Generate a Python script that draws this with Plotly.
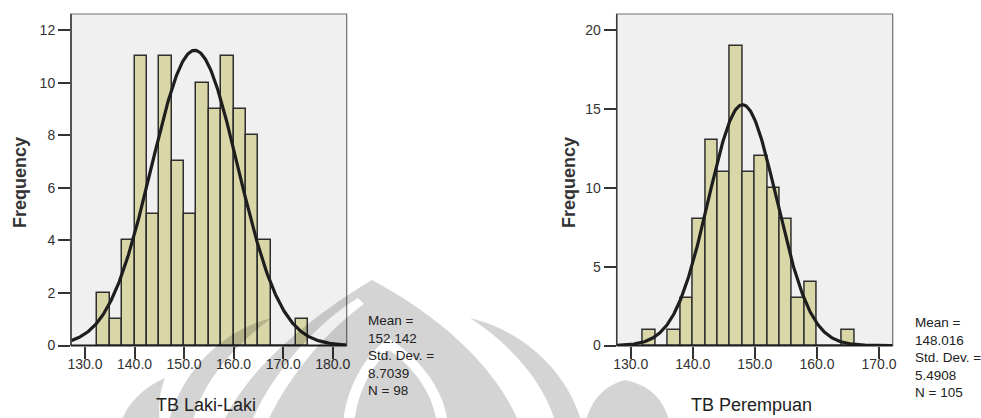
import numpy as np
import plotly.graph_objects as go

# ---------------- data ----------------
male_title = "TB Laki-Laki"
male_bin_start = 132.5
male_bin_width = 2.5
male_counts = [2, 1, 4, 11, 5, 11, 7, 5, 10, 9, 11, 9, 8, 4, 0, 0, 1]
male_mean = 152.142
male_sd = 8.7039
male_n = 98
male_ticks = [130.0, 140.0, 150.0, 160.0, 170.0, 180.0]
male_yticks = [0, 2, 4, 6, 8, 10, 12]

female_title = "TB Perempuan"
female_bin_start = 132.0
female_bin_width = 2.0
female_counts = [1, 0, 1, 3, 8, 13, 11, 19, 11, 12, 10, 8, 3, 4, 0, 0, 1]
female_mean = 148.016
female_sd = 5.4908
female_n = 105
female_ticks = [130.0, 140.0, 150.0, 160.0, 170.0]
female_yticks = [0, 5, 10, 15, 20]

# ---------------- styling ----------------
W, H = 981, 418
FONT = "Liberation Sans, Arial, sans-serif"
BAR_FILL = "#d9d6a8"
BAR_LINE = "#2e2e2e"
BG = "#f0f0f0"


def px_x(x):
    return x / W


def px_y(y):
    return 1 - y / H


fig = go.Figure()


def add_panel(idx, start, width, counts, mean, sd, n, xr):
    xa = "x" if idx == 1 else "x2"
    ya = "y" if idx == 1 else "y2"
    centers = [start + width * (i + 0.5) for i in range(len(counts))]
    fig.add_trace(go.Bar(
        x=centers, y=counts, width=width, xaxis=xa, yaxis=ya,
        marker=dict(color=BAR_FILL, line=dict(color=BAR_LINE, width=1.5)),
        showlegend=False, hoverinfo="x+y"))
    xs = np.linspace(xr[0], xr[1], 400)
    ys = n * width / (sd * np.sqrt(2 * np.pi)) * np.exp(-0.5 * ((xs - mean) / sd) ** 2)
    fig.add_trace(go.Scatter(
        x=xs, y=ys, mode="lines", xaxis=xa, yaxis=ya,
        line=dict(color="#1e1e1e", width=3.2), showlegend=False, hoverinfo="skip"))


x1_range = [127.17, 182.83]
x2_range = [127.74, 172.2]
add_panel(1, male_bin_start, male_bin_width, male_counts, male_mean, male_sd, male_n, x1_range)
add_panel(2, female_bin_start, female_bin_width, female_counts, female_mean, female_sd, female_n, x2_range)

ydom = [px_y(345.5), px_y(14)]
axis_common = dict(showgrid=False, zeroline=False, ticks="outside", ticklen=12,
                   tickwidth=1.5, tickcolor="#333333",
                   tickfont=dict(family=FONT, size=14, color="#333333"),
                   showline=False, fixedrange=True)

fig.update_layout(
    width=W, height=H, margin=dict(l=0, r=0, t=0, b=0, autoexpand=False),
    paper_bgcolor="white", plot_bgcolor=BG, bargap=0,
    xaxis=dict(domain=[px_x(71), px_x(346.7)], range=x1_range, anchor="y",
               tickvals=male_ticks, ticktext=[f"{v:.1f}" for v in male_ticks],
               ticklabelstandoff=-6, **axis_common),
    yaxis=dict(domain=ydom, range=[0, 12.61], anchor="x",
               tickvals=male_yticks, **axis_common),
    xaxis2=dict(domain=[px_x(616.7), px_x(892.7)], range=x2_range, anchor="y2",
                tickvals=female_ticks, ticktext=[f"{v:.1f}" for v in female_ticks],
                ticklabelstandoff=-6, **axis_common),
    yaxis2=dict(domain=ydom, range=[0, 21.01], anchor="x2",
                tickvals=female_yticks, **axis_common),
)

shapes = []
for xr_, yr_ in (("x domain", "y domain"), ("x2 domain", "y2 domain")):
    shapes.append(dict(type="rect", xref=xr_, yref=yr_, x0=0, x1=1, y0=0, y1=1,
                       line=dict(color="#6e6e6e", width=1.2), layer="above"))
    shapes.append(dict(type="line", xref=xr_, yref=yr_, x0=0, x1=0, y0=0, y1=1,
                       line=dict(color="#3a3a3a", width=1.5), layer="above"))
    shapes.append(dict(type="line", xref=xr_, yref=yr_, x0=0, x1=1, y0=0, y1=0,
                       line=dict(color="#1e1e1e", width=2), layer="above"))


# ---------------- faint watermark (decoration, pixel coords) ----------------
def path(points_cmds):
    out = []
    for cmd in points_cmds:
        if isinstance(cmd, str):
            out.append(cmd)
        else:
            out.append(f"{px_x(cmd[0]):.5f},{px_y(cmd[1]):.5f}")
    return " ".join(out)


wm = "rgba(0,0,0,0.17)"
wm_paths = [
    # central dome (outer, clockwise) with a left lens gap and an inner ring gap
    ["M", (372, 280), "C", (410, 300), (490, 350), (520, 425),
     "L", (222, 425), "C", (250, 360), (330, 305), (372, 280), "Z",
     # left lens gap (counter-clockwise)
     "M", (358, 298), "C", (318, 322), (272, 372), (250, 425),
     "L", (266, 425), "C", (288, 375), (330, 328), (364, 304), "Z",
     # inner ring gap: outer teardrop counter-clockwise
     "M", (388, 338), "C", (360, 360), (345, 395), (343, 425),
     "L", (448, 425), "C", (445, 390), (420, 358), (388, 338), "Z",
     # inner teardrop clockwise (filled again)
     "M", (389, 350), "C", (415, 368), (434, 395), (437, 425),
     "L", (354, 425), "C", (356, 398), (368, 370), (389, 350), "Z"],
    # right flame
    ["M", (470, 318), "C", (530, 332), (572, 380), (582, 425),
     "L", (556, 425), "C", (546, 385), (512, 345), (470, 318), "Z"],
    # small right dome
    ["M", (625, 380), "C", (650, 385), (665, 400), (670, 425),
     "L", (585, 425), "C", (590, 400), (605, 385), (625, 380), "Z"],
    # left flame
    ["M", (272, 318), "C", (215, 332), (178, 380), (168, 425),
     "L", (192, 425), "C", (200, 385), (234, 345), (272, 318), "Z"],
    # small left piece
    ["M", (165, 378), "C", (142, 388), (126, 405), (120, 425),
     "L", (160, 425), "C", (158, 405), (160, 390), (165, 378), "Z"],
]
for p in wm_paths:
    shapes.append(dict(type="path", xref="paper", yref="paper", path=path(p),
                       fillcolor=wm, line=dict(width=0), layer="above"))

fig.update_layout(shapes=shapes)

# ---------------- text ----------------
ann = []
for xc in (20, 569):
    ann.append(dict(text="Frequency", x=px_x(xc), y=px_y(183), xref="paper", yref="paper",
                    textangle=-90, showarrow=False, xanchor="center", yanchor="middle",
                    font=dict(family=FONT, size=18, color="#333333", weight="bold")))
ann.append(dict(text=male_title, x=px_x(206), y=px_y(405), xref="paper", yref="paper",
                showarrow=False, xanchor="center", yanchor="middle",
                font=dict(family=FONT, size=18, color="#222222")))
ann.append(dict(text=female_title, x=px_x(751), y=px_y(405), xref="paper", yref="paper",
                showarrow=False, xanchor="center", yanchor="middle",
                font=dict(family=FONT, size=18, color="#222222")))


def stats(mean, sd, n):
    return f"Mean =<br>{mean:.3f}<br>Std. Dev. =<br>{sd:.4f}<br>N = {n}"


ann.append(dict(text=stats(male_mean, male_sd, male_n), x=px_x(366), y=px_y(311),
                xref="paper", yref="paper", showarrow=False, xanchor="left", yanchor="top",
                align="left", font=dict(family=FONT, size=13.5, color="#222222")))
ann.append(dict(text=stats(female_mean, female_sd, female_n), x=px_x(912.5), y=px_y(313),
                xref="paper", yref="paper", showarrow=False, xanchor="left", yanchor="top",
                align="left", font=dict(family=FONT, size=13.5, color="#222222")))
fig.update_layout(annotations=ann)

fig.write_html("out.html", config={"displayModeBar": False},
               post_script="document.body.style.margin='0';document.body.style.overflow='hidden';")
